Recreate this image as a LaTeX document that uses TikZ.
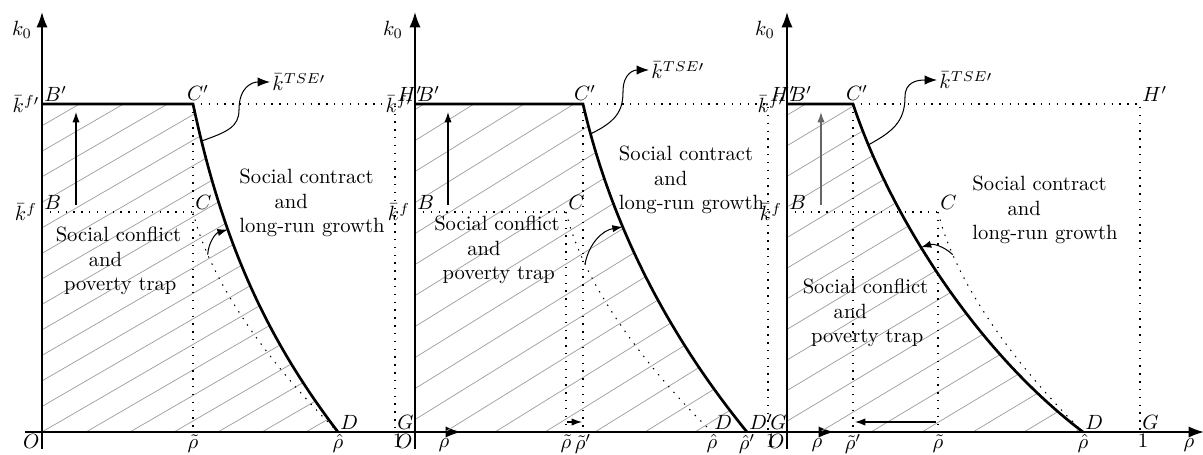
\documentclass[tikz,border=0pt]{standalone}
\usetikzlibrary{arrows.meta}
\begin{document}
\begin{tikzpicture}[x=0.485pt,y=0.485pt,
  axis/.style={line width=0.9pt,-{Latex[length=7.5pt,width=5.5pt]}},
  curveline/.style={line width=1.3pt},
  dotline/.style={dash pattern=on 0.7pt off 3.1pt,line width=0.5pt},
  hatch/.style={black!38,line width=0.35pt},
  uparrow/.style={line width=0.6pt,-{Latex[length=5pt,width=3.5pt]}},
  smallarrow/.style={line width=0.5pt,-{Latex[length=5pt,width=3.5pt]}},
  snakearrow/.style={line width=0.5pt,-{Latex[length=6pt,width=4.5pt]}},
  lbl/.style={inner sep=1pt},
  txt/.style={align=left,inner sep=0pt}]
\useasboundingbox (0,0) rectangle (1203,455);

% ================= Panel 1 =================
\begin{scope}[shift={(42,23)}]
\coordinate (aO) at (0,0);
\coordinate (aBp) at (0,328);
\coordinate (aB) at (0,220);
\coordinate (aCp) at (151,328);
\coordinate (aC) at (151,220);
\coordinate (aD) at (296,0);
\coordinate (aHp) at (353,328);
\coordinate (aG) at (353,0);
\coordinate (aRt) at (151,0);
\coordinate (aX0) at (-17,0);
\coordinate (aX1) at (419,0);
\coordinate (aY0) at (0,-17);
\coordinate (aY1) at (0,420);
\coordinate (aU0) at (34,227);
\coordinate (aU1) at (34,320);
\begin{scope}
\clip (aO) -- (aBp) -- (aCp) .. controls (178,202) and (218,102) .. (aD) -- cycle;
\foreach \k in {-14,...,8} \draw[hatch] (\k*44,0) -- ++(700,406);
\end{scope}
\draw[dotline] (aB) -- (aC);
\draw[dotline] (aCp) -- (aRt);
\draw[dotline] (aCp) -- (aHp) -- (aG);
\draw[dotline] (aC) .. controls (170,142) and (238,57) .. (aD) coordinate[pos=0.18] (aP);
\draw[curveline] (aBp) -- (aCp) .. controls (178,202) and (218,102) .. (aD)
   coordinate[pos=0.1] (aS) coordinate[pos=0.355] (aQ);
\draw[axis] (aX0) -- (aX1);
\draw[axis] (aY0) -- (aY1);
\draw[uparrow] (aU0) -- (aU1);
\draw[smallarrow] (aP) to[bend left=35] (aQ);
\node[lbl,anchor=west] (aTSE) at (228,350) {$\bar{k}^{TSE\prime}$};
\draw[snakearrow] (aS) .. controls (185,300) and (197,305) .. (197,322)
   .. controls (197,345) and (210,350) .. (aTSE.west);
\node[lbl] (aK0) at (-20,402) {$k_0$};
\node[lbl,left] (aKfp) at (aBp) {$\bar{k}^{f\prime}$};
\node[lbl,left,inner sep=2.2pt] (aKf) at (aB) {$\bar{k}^{f}$};
\node[lbl,above right] (aLBp) at (aBp) {$B'$};
\node[lbl,above right] (aLB) at (aB) {$B$};
\node[lbl,anchor=south] (aLCp) at (156,329) {$C'$};
\node[lbl,above right] (aLC) at (aC) {$C$};
\node[lbl,above right] (aLD) at (aD) {$D$};
\node[lbl,below] (aLRt) at (aRt) {$\tilde{\rho}$};
\node[lbl,below] (aLRh) at (aD) {$\hat{\rho}$};
\node[lbl,below left] (aLO) at (aO) {$O$};
\node[lbl,above right] (aLHp) at (aHp) {$H'$};
\node[lbl,above right] (aLG) at (aG) {$G$};
\node[lbl,below,xshift=1.5pt] (aL1) at (aG) {$1$};
\node[lbl] (aLrho) at (402,-13) {$\rho$};
\node[txt] (aConf) at (76.5,171) {Social conflict\\\hspace*{16pt}and\\\hspace*{4pt}poverty trap};
\node[txt] (aCont) at (270,229) {Social contract\\\hspace*{17pt}and\\long-run growth};
\end{scope}

% ================= Panel 2 =================
\begin{scope}[shift={(415,23)}]
\coordinate (bO) at (0,0);
\coordinate (bBp) at (0,328);
\coordinate (bB) at (0,220);
\coordinate (bCp) at (168,328);
\coordinate (bC) at (151,220);
\coordinate (bD) at (297,0);
\coordinate (bDp) at (332,0);
\coordinate (bHp) at (353,328);
\coordinate (bG) at (353,0);
\coordinate (bRt) at (151,0);
\coordinate (bRtp) at (168,0);
\coordinate (bX0) at (-17,0);
\coordinate (bX1) at (419,0);
\coordinate (bY0) at (0,-17);
\coordinate (bY1) at (0,420);
\coordinate (bU0) at (33,227);
\coordinate (bU1) at (33,320);
\coordinate (bA0) at (152,10);
\coordinate (bA1) at (167,10);
\begin{scope}
\clip (bO) -- (bBp) -- (bCp) .. controls (197,202) and (257,92) .. (bDp) -- cycle;
\foreach \k in {-12,...,9} \draw[hatch] (\k*50-20,0) -- ++(700,434);
\end{scope}
\draw[dotline] (bB) -- (bC);
\draw[dotline] (bC) -- (bRt);
\draw[dotline] (bCp) -- (bRtp);
\draw[dotline] (bCp) -- (bHp) -- (bG);
\draw[dotline] (bC) .. controls (170,142) and (238,57) .. (bD) coordinate[pos=0.22] (bP);
\draw[curveline] (bBp) -- (bCp) .. controls (197,202) and (257,92) .. (bDp)
   coordinate[pos=0.08] (bS) coordinate[pos=0.34] (bQ);
\draw[axis] (bX0) -- (bX1);
\draw[axis] (bY0) -- (bY1);
\draw[uparrow] (bU0) -- (bU1);
\draw[smallarrow] (bA0) -- (bA1);
\draw[smallarrow] (bP) to[bend left=35] (bQ);
\node[lbl,anchor=west] (bTSE) at (234,362) {$\bar{k}^{TSE\prime}$};
\draw[snakearrow] (bS) .. controls (200,310) and (208,320) .. (208,340)
   .. controls (208,360) and (220,362) .. (bTSE.west);
\node[lbl] (bK0) at (-22,402) {$k_0$};
\node[lbl,left] (bKfp) at (bBp) {$\bar{k}^{f\prime}$};
\node[lbl,left,inner sep=2.2pt] (bKf) at (bB) {$\bar{k}^{f}$};
\node[lbl,above right] (bLBp) at (bBp) {$B'$};
\node[lbl,above right] (bLB) at (bB) {$B$};
\node[lbl,anchor=south] (bLCp) at (170,329) {$C'$};
\node[lbl,above right] (bLC) at (bC) {$C$};
\node[lbl,above right] (bLD) at (bD) {$D$};
\node[lbl,above right] (bLDp) at (bDp) {$D'$};
\node[lbl,below] (bLRt) at (bRt) {$\tilde{\rho}$};
\node[lbl,below] (bLRtp) at (bRtp) {$\tilde{\rho}'$};
\node[lbl,below] (bLRh) at (bD) {$\hat{\rho}$};
\node[lbl,below] (bLRhp) at (bDp) {$\hat{\rho}'$};
\node[lbl,below left] (bLO) at (bO) {$O$};
\node[lbl,above right] (bLHp) at (bHp) {$H'$};
\node[lbl,above right] (bLG) at (bG) {$G$};
\node[lbl,below,xshift=1.5pt] (bL1) at (bG) {$1$};
\node[lbl] (bLrho) at (402,-13) {$\rho$};
\node[txt] (bConf) at (82,182) {Social conflict\\\hspace*{16pt}and\\\hspace*{4pt}poverty trap};
\node[txt] (bCont) at (276.5,252) {Social contract\\\hspace*{17pt}and\\long-run growth};
\end{scope}

% ================= Panel 3 =================
\begin{scope}[shift={(787,23)}]
\coordinate (cO) at (0,0);
\coordinate (cBp) at (0,328);
\coordinate (cB) at (0,220);
\coordinate (cCp) at (66,328);
\coordinate (cC) at (151,220);
\coordinate (cD) at (296,0);
\coordinate (cHp) at (353,328);
\coordinate (cG) at (353,0);
\coordinate (cRt) at (151,0);
\coordinate (cRtp) at (66,0);
\coordinate (cX0) at (-17,0);
\coordinate (cX1) at (417,0);
\coordinate (cY0) at (0,-17);
\coordinate (cY1) at (0,420);
\coordinate (cU0) at (34,227);
\coordinate (cU1) at (34,320);
\coordinate (cA0) at (149,10);
\coordinate (cA1) at (68,10);
\begin{scope}
\clip (cO) -- (cBp) -- (cCp) .. controls (103,217) and (188,82) .. (cD) -- cycle;
\foreach \k in {-12,...,7} \draw[hatch] (\k*51+33,0) -- ++(700,420);
\end{scope}
\draw[dotline] (cB) -- (cC);
\draw[dotline] (cC) -- (cRt);
\draw[dotline] (cCp) -- (cRtp);
\draw[dotline] (cCp) -- (cHp) -- (cG);
\draw[dotline] (cC) .. controls (170,142) and (238,57) .. (cD) coordinate[pos=0.18] (cP);
\draw[curveline] (cBp) -- (cCp) .. controls (103,217) and (188,82) .. (cD)
   coordinate[pos=0.12] (cS) coordinate[pos=0.41] (cQ);
\draw[axis] (cX0) -- (cX1);
\draw[axis] (cY0) -- (cY1);
\draw[uparrow,black!60] (cU0) -- (cU1);
\draw[smallarrow] (cA0) -- (cA1);
\draw[smallarrow] (cP) to[bend right=30] (cQ);
\node[lbl,anchor=west] (cTSE) at (150,352) {$\bar{k}^{TSE\prime}$};
\draw[snakearrow] (cS) .. controls (105,300) and (118,310) .. (118,335)
   .. controls (118,350) and (130,352) .. (cTSE.west);
\node[lbl] (cK0) at (-22,402) {$k_0$};
\node[lbl,left] (cKfp) at (cBp) {$\bar{k}^{f\prime}$};
\node[lbl,left,inner sep=2.2pt] (cKf) at (cB) {$\bar{k}^{f}$};
\node[lbl,above right] (cLBp) at (cBp) {$B'$};
\node[lbl,above right] (cLB) at (cB) {$B$};
\node[lbl,anchor=south] (cLCp) at (70,329) {$C'$};
\node[lbl,above right] (cLC) at (cC) {$C$};
\node[lbl,above right] (cLD) at (cD) {$D$};
\node[lbl,below] (cLRt) at (cRt) {$\tilde{\rho}$};
\node[lbl,below] (cLRtp) at (cRtp) {$\tilde{\rho}'$};
\node[lbl,below] (cLRh) at (cD) {$\hat{\rho}$};
\node[lbl,below left] (cLO) at (cO) {$O$};
\node[lbl,above right] (cLHp) at (cHp) {$H'$};
\node[lbl,above right] (cLG) at (cG) {$G$};
\node[lbl,below,xshift=1.5pt] (cL1) at (cG) {$1$};
\node[lbl] (cLrho) at (402,-13) {$\rho$};
\node[txt] (cConf) at (78.5,119) {Social conflict\\\hspace*{15pt}and\\\hspace*{4pt}poverty trap};
\node[txt] (cCont) at (258,222) {Social contract\\\hspace*{17pt}and\\long-run growth};
\end{scope}
\end{tikzpicture}
\end{document}
